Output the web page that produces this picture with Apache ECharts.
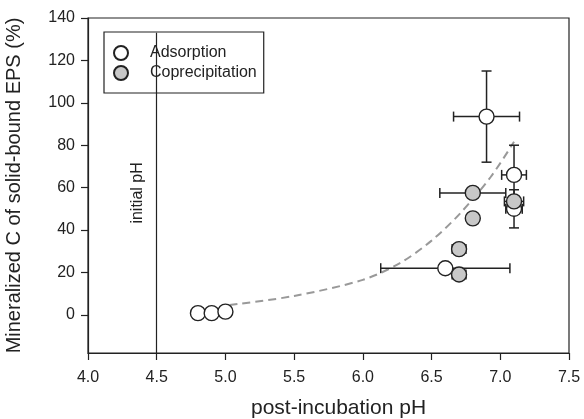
<!DOCTYPE html>
<html>
<head>
<meta charset="utf-8">
<script src="https://cdn.jsdelivr.net/npm/echarts@6/dist/echarts.min.js"></script>
<style>
  html, body { margin: 0; padding: 0; background: #fff; }
  #chart { width: 584px; height: 419px; }
</style>
</head>
<body>
<div id="chart"></div>
<script>
// Adsorption samples: post-incubation pH, mineralized C (%), and error half-widths
const adsPH     = [4.8, 4.9, 5.0, 6.6, 6.9, 7.1, 7.1];
const adsC      = [0.8, 0.8, 1.5, 22, 93.5, 66, 50];
const adsPHErr  = [0, 0, 0.04, 0.47, 0.24, 0.09, 0.06];
const adsCErr   = [0, 0, 0, 0, 21.5, 14, 9];

// Coprecipitation samples
const copPH     = [6.7, 6.7, 6.8, 6.8, 7.1];
const copC      = [19, 31, 45.5, 57.5, 53.5];
const copPHErr  = [0.05, 0.05, 0.03, 0.24, 0.07];
const copCErr   = [0, 0, 0, 0, 0];

// Points along the dashed trend curve
const trendPH   = [5.03, 5.5, 6.0, 6.27, 6.5, 6.71, 6.93, 7.10];
const trendC    = [4.6, 8.9, 16.5, 24.4, 35, 48, 65, 81.6];

// Axis ticks
const xTicks = [4.0, 4.5, 5.0, 5.5, 6.0, 6.5, 7.0, 7.5];
const yTicks = [0, 20, 40, 60, 80, 100, 120, 140];

// Vertical reference line at the initial pH (its upper end sits under the legend)
const initialPH = 4.5;
const initialLineSpan = [-18, 133];

const FONT = '"Liberation Sans", Arial, Helvetica, sans-serif';
const INK = '#222';

function pairs(xs, ys) { return xs.map((x, i) => [x, ys[i]]); }

function errRows(xs, ys, ex, ey) {
  return xs.map((x, i) => [x, ys[i], ex[i], ey[i]]);
}

function renderErr(params, api) {
  const x = api.value(0), y = api.value(1), ex = api.value(2), ey = api.value(3);
  const cap = 5;
  const children = [];
  const style = { stroke: INK, lineWidth: 1.5 };
  if (ex > 0) {
    const l = api.coord([x - ex, y]), r = api.coord([x + ex, y]);
    children.push({ type: 'line', shape: { x1: l[0], y1: l[1], x2: r[0], y2: r[1] }, style });
    children.push({ type: 'line', shape: { x1: l[0], y1: l[1] - cap, x2: l[0], y2: l[1] + cap }, style });
    children.push({ type: 'line', shape: { x1: r[0], y1: r[1] - cap, x2: r[0], y2: r[1] + cap }, style });
  }
  if (ey > 0) {
    const t = api.coord([x, y + ey]), b = api.coord([x, y - ey]);
    children.push({ type: 'line', shape: { x1: t[0], y1: t[1], x2: b[0], y2: b[1] }, style });
    children.push({ type: 'line', shape: { x1: t[0] - cap, y1: t[1], x2: t[0] + cap, y2: t[1] }, style });
    children.push({ type: 'line', shape: { x1: b[0] - cap, y1: b[1], x2: b[0] + cap, y2: b[1] }, style });
  }
  return { type: 'group', children };
}

const chart = echarts.init(document.getElementById('chart'), null, { renderer: 'canvas' });

chart.setOption({
  animation: false,
  backgroundColor: '#fff',
  textStyle: { fontFamily: FONT },
  grid: { left: 88, right: 15, top: 18, bottom: 66, containLabel: false, outerBoundsMode: 'none',
    show: true, borderColor: INK, borderWidth: 1.2, backgroundColor: 'transparent' },
  legend: {
    left: 104, top: 32,
    orient: 'vertical',
    data: ['Adsorption', 'Coprecipitation'],
    itemWidth: 14, itemHeight: 14, itemGap: 2,
    backgroundColor: '#fff',
    borderColor: INK, borderWidth: 1.2, borderRadius: 0,
    padding: [12, 7, 11, 9],
    textStyle: { fontFamily: FONT, fontSize: 16, lineHeight: 18, color: INK, padding: [0, 0, 0, 17] }
  },
  xAxis: {
    type: 'value', min: 4, max: 7.5, interval: 0.5,
    name: 'post-incubation pH', nameLocation: 'middle', nameGap: 45,
    nameTextStyle: { fontFamily: FONT, fontSize: 21, color: INK, padding: [0, 0, 0, 20] },
    axisLine: { onZero: false, lineStyle: { color: INK, width: 1.2 } },
    axisTick: { show: true, inside: false, length: 7, lineStyle: { color: INK, width: 1.2 } },
    axisLabel: { fontFamily: FONT, fontSize: 16, color: INK, margin: 17,
      formatter: v => xTicks.includes(+v.toFixed(1)) ? v.toFixed(1) : '' },
    splitLine: { show: false }
  },
  yAxis: {
    type: 'value', min: -18, max: 140,
    name: 'Mineralized C of solid-bound EPS (%)', nameLocation: 'middle', nameGap: 64,
    nameTextStyle: { fontFamily: FONT, fontSize: 20, color: INK },
    axisLine: { onZero: false, lineStyle: { color: INK, width: 1.2 } },
    axisTick: { show: true, inside: false, length: 7, customValues: yTicks, lineStyle: { color: INK, width: 1.2 } },
    axisLabel: { fontFamily: FONT, fontSize: 16, color: INK, margin: 13, customValues: yTicks },
    splitLine: { show: false }
  },
  series: [
    {
      name: 'trend', type: 'line', smooth: 0.3, symbol: 'none', z: 1,
      data: pairs(trendPH, trendC),
      lineStyle: { color: '#999', width: 2, type: [8, 5] },
      markLine: {
        silent: true, symbol: 'none',
        lineStyle: { color: INK, width: 1.2, type: 'solid' },
        label: { show: true, formatter: 'initial pH', position: 'insideMiddleTop', distance: 11,
          fontFamily: FONT, fontSize: 16, color: INK },
        data: [[{ coord: [initialPH, initialLineSpan[0]] }, { coord: [initialPH, initialLineSpan[1]] }]]
      }
    },
    {
      name: 'adsErr', type: 'custom', z: 2, renderItem: renderErr,
      data: errRows(adsPH, adsC, adsPHErr, adsCErr)
    },
    {
      name: 'copErr', type: 'custom', z: 2, renderItem: renderErr,
      data: errRows(copPH, copC, copPHErr, copCErr)
    },
    {
      name: 'Adsorption', type: 'scatter', z: 3, symbol: 'circle', symbolSize: 15,
      data: pairs(adsPH, adsC),
      itemStyle: { color: '#fff', borderColor: INK, borderWidth: 1.4, opacity: 1 }
    },
    {
      name: 'Coprecipitation', type: 'scatter', z: 4, symbol: 'circle', symbolSize: 15,
      data: pairs(copPH, copC),
      itemStyle: { color: '#c8c8c8', borderColor: INK, borderWidth: 1.4, opacity: 1 }
    }
  ]
});
</script>
</body>
</html>
